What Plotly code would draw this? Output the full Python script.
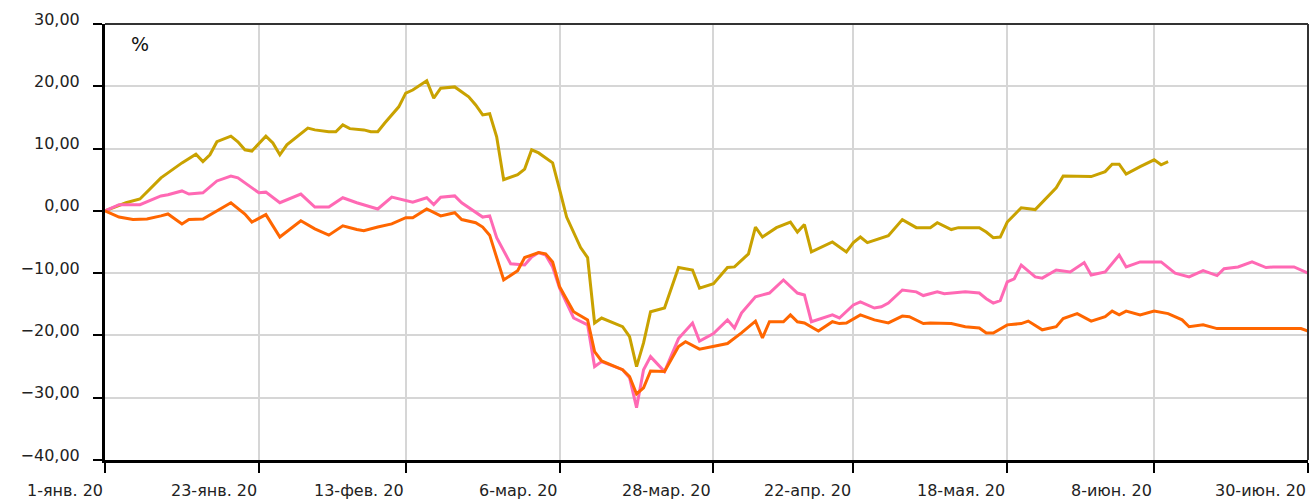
import plotly.graph_objects as go

# Trading-day index of each vertex and its value, %
X_GOLD = [0, 3, 5, 6, 8, 9, 11, 13, 14, 15, 16, 18, 19, 20, 21, 23, 24, 25, 26, 29,
          30, 32, 33, 34, 35, 37, 38, 39, 40, 42, 43, 44, 45, 46, 47, 48, 50, 52, 53, 54,
          55, 56, 57, 59, 60, 61, 62, 64, 65, 66, 68, 69, 70, 71, 74, 75, 76, 77, 78, 80,
          82, 84, 85, 87, 89, 90, 92, 93, 94, 96, 98, 99, 100, 101, 104, 106, 107, 108, 109, 112,
          114, 116, 118, 119, 121, 122, 125, 126, 127, 128, 129, 131, 133, 136, 137, 141, 143, 144, 145, 146,
          148, 150, 151, 152]
Y_GOLD = [0, 1.3, 1.9, 3.0, 5.3, 6.1, 7.7, 9.1, 7.9, 9.0, 11.1, 12.0, 11.1, 9.8, 9.6, 12.0, 10.9, 9.0, 10.6, 13.3,
          13.0, 12.7, 12.7, 13.8, 13.2, 13.0, 12.7, 12.7, 14.1, 16.7, 18.9, 19.4, 20.2, 20.9, 18.1, 19.7, 19.9, 18.3, 17.0, 15.4,
          15.6, 11.9, 5.0, 5.8, 6.7, 9.8, 9.3, 7.7, 3.4, -1.0, -5.9, -7.5, -18.0, -17.2, -18.6, -20.2, -25.0, -21.2, -16.2, -15.6,
          -9.1, -9.5, -12.4, -11.7, -9.1, -9.0, -6.9, -2.6, -4.2, -2.7, -1.8, -3.4, -2.2, -6.6, -5.0, -6.6, -5.1, -4.2, -5.1, -4.0,
          -1.4, -2.7, -2.7, -1.9, -3.0, -2.7, -2.7, -3.4, -4.3, -4.2, -1.8, 0.5, 0.2, 3.7, 5.6, 5.5, 6.3, 7.5, 7.5, 5.9,
          7.1, 8.2, 7.4, 7.9]

X_PINK = [0, 2, 5, 8, 9, 11, 12, 14, 16, 18, 19, 22, 23, 25, 28, 30, 32, 34, 36, 37,
          39, 41, 44, 46, 47, 48, 50, 51, 54, 55, 56, 58, 60, 61, 62, 63, 64, 65, 67, 69,
          70, 71, 74, 75, 76, 77, 78, 80, 82, 84, 85, 87, 89, 90, 91, 93, 95, 97, 99, 100,
          101, 104, 105, 107, 108, 110, 111, 112, 114, 116, 117, 119, 120, 123, 125, 126, 127, 128, 129, 130,
          131, 133, 134, 136, 138, 140, 141, 143, 145, 146, 148, 151, 153, 155, 157, 159, 160, 162, 164, 166,
          167, 170, 172]
Y_PINK = [0, 1.0, 1.0, 2.4, 2.6, 3.2, 2.7, 2.9, 4.8, 5.6, 5.3, 2.9, 3.0, 1.3, 2.7, 0.6, 0.6, 2.1, 1.3, 1.0,
          0.3, 2.2, 1.4, 2.1, 1.0, 2.2, 2.4, 1.3, -1.0, -0.8, -4.3, -8.5, -8.7, -7.4, -6.7, -7.1, -9.0, -12.4, -17.2, -18.3,
          -25.0, -24.2, -25.5, -26.8, -31.6, -25.5, -23.4, -25.8, -20.5, -18.0, -20.9, -19.7, -17.5, -18.8, -16.4, -13.8, -13.2, -11.1, -13.2, -13.5,
          -17.8, -16.7, -17.2, -15.1, -14.6, -15.6, -15.4, -14.8, -12.7, -13.0, -13.6, -13.0, -13.3, -13.0, -13.2, -14.1, -14.8, -14.4, -11.4, -10.9,
          -8.7, -10.6, -10.8, -9.5, -9.8, -8.3, -10.3, -9.8, -7.1, -9.0, -8.2, -8.2, -10.0, -10.6, -9.6, -10.4, -9.3, -9.0, -8.2, -9.1,
          -9.0, -9.0, -10.0]

X_ORANGE = [0, 2, 4, 6, 8, 9, 11, 12, 14, 16, 18, 20, 21, 23, 25, 28, 30, 32, 34, 36,
            37, 39, 41, 43, 44, 46, 48, 50, 51, 53, 54, 55, 57, 59, 60, 62, 63, 64, 65, 67,
            69, 70, 71, 74, 75, 76, 77, 78, 80, 82, 83, 85, 87, 89, 91, 93, 94, 95, 97, 98,
            99, 100, 102, 104, 105, 106, 108, 110, 112, 114, 115, 117, 118, 121, 123, 125, 126, 127, 129, 131,
            132, 134, 136, 137, 139, 141, 143, 144, 145, 146, 148, 150, 152, 154, 155, 157, 159, 171, 172]
Y_ORANGE = [0, -1.0, -1.4, -1.3, -0.8, -0.5, -2.1, -1.4, -1.3, 0.0, 1.3, -0.5, -1.8, -0.6, -4.2, -1.6, -2.9, -3.9, -2.4, -3.0,
            -3.2, -2.6, -2.1, -1.1, -1.1, 0.3, -0.8, -0.3, -1.4, -1.9, -2.6, -3.9, -11.1, -9.6, -7.5, -6.7, -6.9, -8.2, -12.2, -16.2,
            -17.5, -22.6, -24.1, -25.5, -26.6, -29.4, -28.4, -25.7, -25.8, -21.8, -21.0, -22.2, -21.7, -21.3, -19.6, -17.7, -20.4, -17.8, -17.8, -16.7,
            -17.8, -18.0, -19.3, -17.8, -18.1, -18.0, -16.7, -17.5, -18.0, -16.9, -17.0, -18.1, -18.0, -18.1, -18.6, -18.8, -19.6, -19.6, -18.3, -18.1,
            -17.7, -19.1, -18.6, -17.3, -16.5, -17.7, -17.0, -16.1, -16.7, -16.1, -16.7, -16.1, -16.5, -17.5, -18.6, -18.3, -18.9, -18.9, -19.3]

TICK_IDX = [0, 22, 43, 65, 87, 107, 129, 150, 172]
TICK_TEXT = ["1-янв. 20", "23-янв. 20", "13-фев. 20", "6-мар. 20", "28-мар. 20",
             "22-апр. 20", "18-мая. 20", "8-июн. 20", "30-июн. 20"]
Y_TICKS = [-40, -30, -20, -10, 0, 10, 20, 30]

assert len(X_GOLD) == len(Y_GOLD)
assert len(X_PINK) == len(Y_PINK)
assert len(X_ORANGE) == len(Y_ORANGE)

FONT = "DejaVu Sans"

fig = go.Figure()
for xs, ys, col in [(X_GOLD, Y_GOLD, "#C9A200"), (X_PINK, Y_PINK, "#FF69B4"), (X_ORANGE, Y_ORANGE, "#FF6600")]:
    fig.add_trace(go.Scatter(x=xs, y=ys, mode="lines", line=dict(color=col, width=3),
                             hoverinfo="skip", showlegend=False))

annotations = [dict(x=t, y=0, xref="x", yref="paper", text=s, showarrow=False,
                    xanchor="right", yanchor="top", yshift=-19,
                    font=dict(family=FONT, size=16, color="#222"))
               for t, s in zip(TICK_IDX, TICK_TEXT)]
annotations.append(dict(x=0.029, y=0.955, xref="paper", yref="paper", text="%", showarrow=False,
                        xanchor="center", yanchor="middle",
                        font=dict(family=FONT, size=19, color="#111")))

fig.update_layout(
    width=1310, height=499,
    margin=dict(l=105, r=2, t=24, b=39),
    paper_bgcolor="white", plot_bgcolor="white",
    separators=", ",
    annotations=annotations,
    shapes=[
        dict(type="line", xref="paper", yref="paper", x0=0, x1=1, y0=1, y1=1,
             line=dict(color="#333", width=2)),
        dict(type="line", xref="paper", yref="paper", x0=1, x1=1, y0=0, y1=1,
             line=dict(color="#333", width=2)),
    ],
    xaxis=dict(range=[0, 172], tickvals=TICK_IDX, showticklabels=False,
               ticks="outside", ticklen=10, tickwidth=2, tickcolor="black",
               showgrid=True, gridcolor="#d6d6d6", gridwidth=2,
               showline=True, linecolor="black", linewidth=3, zeroline=False),
    yaxis=dict(range=[-40, 30], tickvals=Y_TICKS, tickformat=".2f",
               ticks="outside", ticklen=9, tickwidth=2, tickcolor="black",
               ticklabelstandoff=10, ticklabelshift=-5,
               tickfont=dict(family=FONT, size=16, color="#222"),
               showgrid=True, gridcolor="#d6d6d6", gridwidth=2,
               showline=True, linecolor="black", linewidth=3, zeroline=False),
)

fig.write_html("out.html", config={"displayModeBar": False},
               post_script="document.body.style.margin='0';document.body.style.overflow='hidden';")
